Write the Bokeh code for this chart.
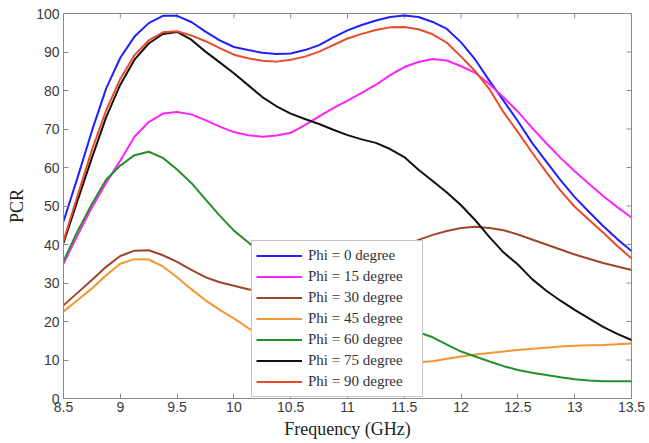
import math
from bokeh.plotting import figure
from bokeh.models import Legend, LegendItem, FixedTicker, Range1d, CustomJSTickFormatter
from bokeh.embed import file_html
from bokeh.resources import INLINE

freq = [8.5, 8.625, 8.75, 8.875, 9.0, 9.125, 9.25, 9.375, 9.5, 9.625, 9.75,
        9.875, 10.0, 10.125, 10.25, 10.375, 10.5, 10.625, 10.75, 10.875, 11.0,
        11.125, 11.25, 11.375, 11.5, 11.625, 11.75, 11.875, 12.0, 12.125,
        12.25, 12.375, 12.5, 12.625, 12.75, 12.875, 13.0, 13.125, 13.25,
        13.375, 13.5]

phi0 = [46.0, 57.5, 69.5, 80.5, 88.5, 94.0, 97.5, 99.4, 99.4, 97.8, 95.3,
        93.0, 91.3, 90.5, 89.8, 89.5, 89.6, 90.5, 91.8, 93.8, 95.6,
        97.0, 98.2, 99.1, 99.5, 99.1, 97.8, 96.0, 92.5, 88.0,
        82.5, 77.3, 72.0, 66.4, 61.5, 56.7, 52.3, 48.5, 44.8, 41.4, 38.3]
phi15 = [35.0, 42.5, 49.6, 56.0, 61.8, 68.0, 71.8, 74.0, 74.4, 73.8, 72.3,
         70.6, 69.2, 68.4, 68.0, 68.3, 69.0, 71.0, 73.3, 75.4, 77.4,
         79.4, 81.5, 84.0, 86.1, 87.4, 88.2, 87.8, 86.3, 84.6,
         81.6, 78.2, 74.5, 70.3, 66.3, 62.5, 59.0, 55.8, 52.6, 49.7, 47.0]
phi30 = [24.2, 27.5, 30.8, 34.2, 37.0, 38.4, 38.5, 37.2, 35.5, 33.4, 31.5,
         30.2, 29.3, 28.4, 27.8, 27.8, 28.2, 29.0, 30.2, 31.6, 33.2,
         34.8, 36.4, 38.0, 39.6, 41.2, 42.5, 43.5, 44.3, 44.6,
         44.3, 43.7, 42.6, 41.3, 40.0, 38.7, 37.4, 36.3, 35.2, 34.3, 33.4]
phi45 = [22.6, 25.6, 28.6, 32.0, 35.0, 36.2, 36.1, 34.3, 31.5, 28.4, 25.5,
         23.0, 20.8, 18.3, 16.3, 14.6, 13.3, 12.2, 11.3, 10.6, 10.1,
         9.7, 9.5, 9.3, 9.3, 9.4, 9.7, 10.3, 10.9, 11.4,
         11.8, 12.2, 12.6, 12.9, 13.2, 13.5, 13.7, 13.8, 13.9, 14.1, 14.3]
phi60 = [35.7, 43.5, 50.5, 56.8, 60.5, 63.2, 64.1, 62.5, 59.5, 56.0, 51.7,
         47.5, 43.6, 40.6, 37.5, 34.8, 32.2, 29.8, 27.6, 25.6, 23.8,
         22.2, 20.8, 19.5, 18.4, 17.2, 15.9, 14.0, 12.2, 10.9,
         9.6, 8.4, 7.4, 6.7, 6.1, 5.5, 5.0, 4.7, 4.5, 4.5, 4.5]
phi75 = [40.4, 51.5, 62.5, 73.0, 81.5, 88.0, 92.2, 94.7, 95.2, 93.2, 90.1,
         87.3, 84.5, 81.4, 78.3, 75.9, 74.0, 72.6, 71.3, 69.8, 68.4,
         67.3, 66.4, 64.8, 62.7, 59.4, 56.5, 53.5, 50.2, 46.3,
         41.9, 37.9, 34.8, 31.0, 28.0, 25.4, 23.0, 20.8, 18.6, 16.8, 15.2]
phi90 = [41.0, 52.8, 64.5, 74.8, 83.0, 89.2, 93.0, 95.1, 95.4, 94.3, 92.8,
         91.0, 89.3, 88.4, 87.7, 87.5, 88.0, 88.8, 90.1, 91.8, 93.5,
         94.7, 95.7, 96.4, 96.5, 95.9, 94.6, 92.4, 88.8, 85.0,
         80.3, 74.3, 69.2, 63.9, 58.8, 54.0, 49.8, 46.4, 43.1, 39.6, 36.4]

labels = ["Phi = 0 degree", "Phi = 15 degree", "Phi = 30 degree",
          "Phi = 45 degree", "Phi = 60 degree", "Phi = 75 degree",
          "Phi = 90 degree"]
colors = ["#1f1fff", "#ff22ff", "#a0442a", "#f39530", "#24902a", "#111111",
          "#ea4a2a"]

x_ticks = [8.5, 9.0, 9.5, 10.0, 10.5, 11.0, 11.5, 12.0, 12.5, 13.0, 13.5]
y_ticks = [0, 10, 20, 30, 40, 50, 60, 70, 80, 90, 100]
x_min, x_max = 8.5, 13.5
y_min, y_max = 0, 100

p = figure(width=649, height=443, output_backend="svg", toolbar_location=None,
           x_range=Range1d(x_min, x_max), y_range=Range1d(y_min, y_max),
           min_border_left=63, min_border_right=18, min_border_top=13,
           min_border_bottom=45, background_fill_color="white",
           border_fill_color="white")

p.xgrid.visible = False
p.ygrid.visible = False
p.outline_line_color = "#8a8a8a"

fmt = CustomJSTickFormatter(
    code="return Number.isInteger(tick) ? tick.toFixed(0) : tick.toFixed(1);")

for ax in (p.xaxis[0], p.yaxis[0]):
    ax.major_tick_in = 5
    ax.major_tick_out = 0
    ax.minor_tick_in = 0
    ax.minor_tick_out = 0
    ax.axis_line_color = "#8a8a8a"
    ax.major_tick_line_color = "#8a8a8a"
    ax.major_label_text_font = "Liberation Sans"
    ax.major_label_text_font_size = "14px"
    ax.major_label_text_color = "#3a3a3a"
    ax.axis_label_text_font = "Liberation Serif"
    ax.axis_label_text_font_size = "18px"
    ax.axis_label_text_font_style = "normal"
    ax.axis_label_text_color = "#222222"

p.xaxis[0].ticker = FixedTicker(ticks=x_ticks)
p.yaxis[0].ticker = FixedTicker(ticks=y_ticks)
p.xaxis[0].formatter = fmt
p.xaxis[0].axis_label = "Frequency (GHz)"
p.yaxis[0].axis_label = "PCR"
p.xaxis[0].major_label_standoff = 3
p.xaxis[0].axis_label_standoff = 4
p.yaxis[0].major_label_standoff = 4
p.yaxis[0].axis_label_standoff = 6

# inward ticks on the top and right edges of the box
p.ray(x=x_ticks, y=[y_max] * len(x_ticks), length=5, length_units="screen",
      angle=-math.pi / 2, line_color="#8a8a8a", line_width=1)
p.ray(x=[x_max] * len(y_ticks), y=y_ticks, length=5, length_units="screen",
      angle=math.pi, line_color="#8a8a8a", line_width=1)

series = [phi0, phi15, phi30, phi45, phi60, phi75, phi90]
items = []
for vals, col, lab in zip(series, colors, labels):
    r = p.line(freq, vals, line_color=col, line_width=2)
    items.append(LegendItem(label=lab, renderers=[r]))

legend = Legend(items=items, location=(188, 1), padding=4, spacing=0,
                margin=0, glyph_width=46, glyph_height=21, label_height=21,
                label_width=110, label_standoff=6,
                label_text_font="Liberation Serif", label_text_font_size="15px",
                label_text_color="#333333", border_line_color="#8a8a8a",
                border_line_width=1, background_fill_alpha=1.0)
p.add_layout(legend)

open("out.html", "w").write(file_html(p, INLINE))
